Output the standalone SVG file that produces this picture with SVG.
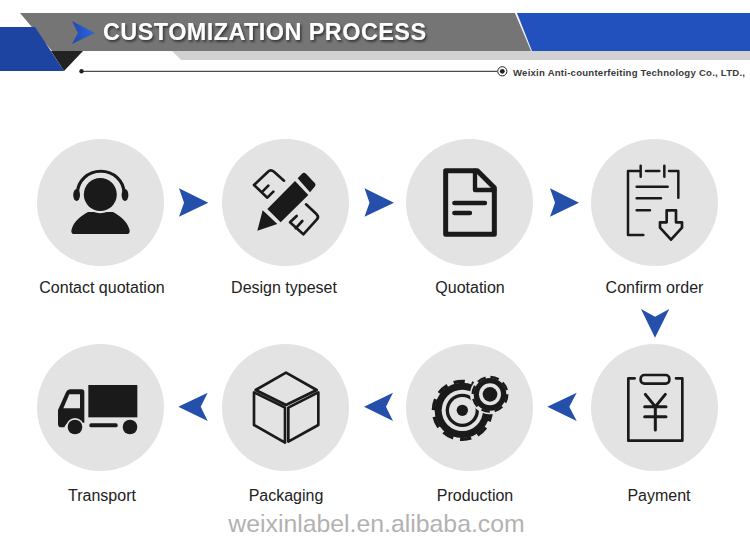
<svg xmlns="http://www.w3.org/2000/svg" width="750" height="541" viewBox="0 0 750 541">
<style>
text{font-family:"Liberation Sans",Arial,sans-serif}
.bg{fill:#e3e3e3}
.lbl{font-size:16px;fill:#222;text-anchor:middle}
.arr{fill:#2450ab}
.k{fill:#1a1a1a}
.gap{fill:#e3e3e3}
.s{fill:none;stroke:#1a1a1a;stroke-linecap:round;stroke-linejoin:round}
</style>
<defs>
<linearGradient id="tg" x1="0" y1="0" x2="1" y2="0"><stop offset="0" stop-color="#1d49b0"/><stop offset="1" stop-color="#2f68e0"/></linearGradient>
<filter id="sh" x="-5%" y="-30%" width="110%" height="170%"><feDropShadow dx="1.5" dy="2" stdDeviation="1.3" flood-color="#222" flood-opacity=".75"/></filter>
</defs>
<g id="header">
<polygon points="172,51 750,51 750,60 181,60" fill="#d1d1d1"/>
<polygon points="20,13 515,13 532,51 52,51" fill="#757575"/>
<polygon points="515,13 517,13 534,51 531,51" fill="#f2f2f2"/>
<polygon points="517,13 750,13 750,51 532,51" fill="#2251bd"/>
<polygon points="0,27 35,27 64,71 0,71" fill="#1c44a0"/>
<polygon points="51,51 83,51 64,71" fill="#222"/>
<polygon points="72,21 95,33 72,44 78,33" fill="url(#tg)"/>
<text x="103" y="39.5" font-size="23.4" font-weight="700" fill="#fff" filter="url(#sh)" textLength="323">CUSTOMIZATION PROCESS</text>
<line x1="81" y1="71.3" x2="497" y2="71.3" stroke="#222" stroke-width="1"/>
<circle cx="81.5" cy="71.3" r="2.2" fill="#222"/>
<circle cx="502.3" cy="71.3" r="4.6" fill="#fff" stroke="#222" stroke-width="1"/>
<circle cx="502.3" cy="71.3" r="2.4" fill="#222"/>
<text x="513" y="75.5" font-size="9.6" font-weight="700" fill="#3a3a3a" textLength="232">Weixin Anti-counterfeiting Technology Co., LTD.,</text>
</g>
<g id="connectors">
<polygon class="arr" points="179,188.3 208.3,202.7 179,216.7 184,202.7"/>
<polygon class="arr" points="364.5,188.3 394,202.7 364.5,216.7 369.5,202.7"/>
<polygon class="arr" points="550,188.3 579,202.7 550,216.7 555,202.7"/>
<polygon class="arr" points="641,309 655,316.7 669.3,309 655,337.7"/>
<polygon class="arr" points="576.7,392.7 547.3,406.7 576.7,421 569.3,406.7"/>
<polygon class="arr" points="393,392.7 364,406.7 393,421 386,406.7"/>
<polygon class="arr" points="207.7,392.7 178.3,406.7 207.7,421 200.7,406.7"/>
</g>
<g id="node-contact">
<circle class="bg" cx="100.5" cy="202.5" r="63.5"/>
<path class="k" d="M73 234Q70.500 233 71.700 229C74 221 81 216 88 212L113 212C120 216 127 221 129.300 229Q130.500 233 128 234Z"/>
<circle class="gap" cx="100.300" cy="194.500" r="18.800"/>
<circle class="k" cx="100.300" cy="194.500" r="16.500"/>
<path class="s" stroke-width="3.200" d="M77.500 193A23 21.500 0 0 1 124 193"/>
<ellipse class="k" cx="76.600" cy="195" rx="3.400" ry="6"/>
<ellipse class="k" cx="125" cy="195" rx="3.400" ry="6"/>
<text class="lbl" x="102" y="293">Contact quotation</text>
</g>
<g id="node-design">
<circle class="bg" cx="285.5" cy="202.5" r="63.5"/>
<g transform="translate(30 135) scale(.33333)">
<path class="s" stroke-width="8" d="M762 137L732 110Q722 102 714 110L672 150L712 188L730 170M695 172L715 152"/>
<path class="s" stroke-width="8" d="M828 208L860 238Q868 246 860 254L820 298L780 262L800 243M797 280L817 258"/>
<polygon class="k" points="712,222 795,138 835,180 752,262"/>
<polygon class="k" points="682,287 698,226 742,267"/>
<path class="k" d="M803 130L816 116Q822 111 828 116L855 145Q859 150 854 155L840 172Z"/>
</g>
<text class="lbl" x="284" y="293">Design typeset</text>
</g>
<g id="node-quotation">
<circle class="bg" cx="469.5" cy="202.5" r="63.5"/>
<g transform="translate(400 135) scale(.33333)">
<path class="s" stroke-width="15" d="M137 107H232L283 158V298H137Z"/>
<path class="s" stroke-width="13" d="M225 107V165H283"/>
<path class="s" stroke-width="13" stroke-linecap="butt" d="M163 204H255M163 234H210"/>
</g>
<text class="lbl" x="470" y="293">Quotation</text>
</g>
<g id="node-confirm">
<circle class="bg" cx="654.5" cy="202.5" r="63.5"/>
<g transform="translate(400 135) scale(.33333)">
<path class="s" stroke-width="7.500" d="M716 108H684V300H730M722 92V125M793 92V125M738 108H778M807 108H835V188M710 155H803M710 190H783M710 226H750"/>
<path class="s" stroke-width="8" d="M800 226H828V262H846V278L813 314L780 278V262H800Z"/>
</g>
<text class="lbl" x="654.500" y="293">Confirm order</text>
</g>
<g id="node-payment">
<circle class="bg" cx="654.5" cy="407.5" r="63.5"/>
<g transform="translate(400 305) scale(.33333)">
<path class="s" stroke-width="8" d="M704 220H685V407H847V220H828"/>
<rect x="722" y="210" width="86" height="26" rx="11" fill="none" stroke="#1a1a1a" stroke-width="8"/>
<path class="s" stroke-width="9" stroke-linecap="butt" d="M736 268L766 305L796 268M766 305V375M734 305H798M734 335H798"/>
</g>
<text class="lbl" x="659" y="501">Payment</text>
</g>
<g id="node-production">
<circle class="bg" cx="469.5" cy="407.5" r="63.5"/>
<g transform="translate(400 305) scale(.33333)">
<circle class="k" cx="187" cy="316" r="83"/>
<circle cx="187" cy="316" r="87" fill="none" stroke="#1a1a1a" stroke-width="10" stroke-dasharray="34 20.700"/>
<circle class="gap" cx="187" cy="316" r="62"/>
<circle class="k" cx="187" cy="316" r="50"/>
<circle class="gap" cx="187" cy="316" r="40"/>
<circle class="k" cx="187" cy="316" r="17"/>
<circle class="gap" cx="270" cy="268" r="60"/>
<circle class="k" cx="270" cy="268" r="49"/>
<circle cx="270" cy="268" r="52" fill="none" stroke="#1a1a1a" stroke-width="7" stroke-dasharray="26 14.800"/>
<circle class="gap" cx="270" cy="268" r="33"/>
<circle class="k" cx="270" cy="268" r="22"/>
</g>
<text class="lbl" x="475" y="501">Production</text>
</g>
<g id="node-packaging">
<circle class="bg" cx="285.5" cy="407.5" r="63.5"/>
<g transform="translate(30 340) scale(.33333)">
<path class="s" stroke-width="8" stroke-linecap="butt" stroke-linejoin="miter" d="M768 98L860 150L768 195L677 150ZM672 157V255L765 308V203ZM865 157V255L775 305V203Z"/>
</g>
<text class="lbl" x="286" y="501">Packaging</text>
</g>
<g id="node-transport">
<circle class="bg" cx="100.5" cy="407.5" r="63.5"/>
<g transform="translate(30 340) scale(.33333)">
<rect class="k" x="175" y="135" width="147" height="97"/>
<path class="k" d="M84 210L108 157Q112 148 122 148H155Q163 148 163 156V248H120Q106 250 103 262H94Q84 262 84 252Z"/>
<path class="gap" d="M100 205L118 163H150V205Z"/>
<circle class="gap" cx="135" cy="261" r="27"/>
<circle class="k" cx="135" cy="261" r="22"/>
<circle class="k" cx="300" cy="261" r="22"/>
<rect class="k" x="178" y="250" width="85" height="12" rx="5"/>
</g>
<text class="lbl" x="102" y="501">Transport</text>
</g>
<text id="watermark" x="376.500" y="531.500" font-size="24.800" fill="#b2b2b2" text-anchor="middle">weixinlabel.en.alibaba.com</text>
</svg>
